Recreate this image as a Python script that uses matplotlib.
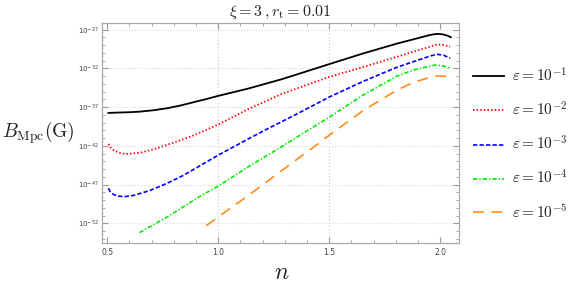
import matplotlib
matplotlib.use('Agg')
import matplotlib.pyplot as plt
import numpy as np
from matplotlib.ticker import FixedLocator, MultipleLocator, FuncFormatter

plt.rcParams['mathtext.fontset'] = 'cm'

# values (log10 of B_Mpc in gauss)
n_1 = [0.506, 0.55, 0.6, 0.649, 0.709, 0.769, 0.829, 0.889, 0.945, 1.0, 1.136, 1.286, 1.5,
       1.655, 1.805, 1.955, 1.975, 1.993, 2.01, 2.03, 2.048]
lg_1 = [-37.75, -37.7, -37.66, -37.58, -37.4, -37.15, -36.8, -36.37, -35.97, -35.55, -34.6, -33.4, -31.45,
        -30.05, -28.8, -27.68, -27.58, -27.55, -27.6, -27.75, -27.98]

n_2 = [0.506, 0.515, 0.528, 0.555, 0.581, 0.615, 0.649, 0.709, 0.769, 0.829, 0.889, 0.945, 1.0,
       1.136, 1.286, 1.5, 1.655, 1.805, 1.955, 1.985, 2.015, 2.045]
lg_2 = [-41.76, -42.2, -42.53, -42.9, -43.05, -43.0, -42.88, -42.45, -41.88, -41.3, -40.65, -39.95, -39.25,
        -37.25, -35.3, -33.1, -31.8, -30.5, -29.19, -28.92, -28.97, -29.2]

n_3 = [0.506, 0.515, 0.53, 0.551, 0.58, 0.619, 0.694, 0.769, 0.844, 0.919, 1.0, 1.136, 1.212, 1.35,
       1.5, 1.655, 1.805, 1.955, 1.985, 2.015, 2.045]
lg_3 = [-47.48, -47.95, -48.3, -48.5, -48.55, -48.4, -47.75, -46.85, -45.8, -44.55, -43.2, -41.1, -39.95, -37.95,
        -35.7, -33.65, -31.85, -30.4, -30.18, -30.3, -30.7]

n_4 = [0.646, 0.769, 0.919, 1.0, 1.136, 1.286, 1.392, 1.5, 1.655, 1.805, 1.88, 1.955, 1.98, 2.015, 2.045]
lg_4 = [-53.2, -51.2, -48.5, -47.2, -44.7, -42.1, -40.2, -38.3, -35.4, -33.0, -32.2, -31.69, -31.56, -31.7, -31.98]

n_5 = [0.946, 0.986, 1.016, 1.136, 1.286, 1.437, 1.52, 1.655, 1.805, 1.88, 1.955, 1.985, 2.015, 2.045]
lg_5 = [-52.3, -51.5, -50.85, -48.4, -45.2, -42.0, -40.2, -37.4, -34.8, -33.8, -33.15, -32.98, -33.0, -33.2]

labels = [r'$\varepsilon=10^{-1}$', r'$\varepsilon=10^{-2}$', r'$\varepsilon=10^{-3}$',
          r'$\varepsilon=10^{-4}$', r'$\varepsilon=10^{-5}$']
y_major_exp = [-52, -47, -42, -37, -32, -27]
x_grid = [1.0, 1.5]

fig = plt.figure(figsize=(5.78, 2.89), dpi=100)
ax = fig.add_axes([102 / 578, 1 - 243 / 289, (458.7 - 102) / 578, (243 - 23) / 289])

styles = [
    dict(color='black', lw=1.3, ls='-'),
    dict(color='#ff0000', lw=1.3, ls=(0, (0.8, 1.2))),
    dict(color='#0000ff', lw=1.2, ls=(0, (2.6, 1.3))),
    dict(color='#00ee00', lw=1.2, ls=(0, (2.6, 1.2, 0.8, 1.2))),
    dict(color='#ff8c1a', lw=1.2, ls=(0, (6.5, 4.5))),
]
series = [(n_1, lg_1), (n_2, lg_2), (n_3, lg_3), (n_4, lg_4), (n_5, lg_5)]
for (nn, lg), st, lab in zip(series, styles, labels):
    ax.plot(nn, 10.0 ** np.array(lg), label=lab, **st)

ax.set_yscale('log')
ax.set_xlim(0.477, 2.083)
ax.set_ylim(10 ** -54.54, 10 ** -26.14)

ax.yaxis.set_major_locator(FixedLocator([10.0 ** e for e in y_major_exp]))
ax.yaxis.set_minor_locator(FixedLocator([10.0 ** e for e in range(-54, -26)]))
ax.yaxis.set_major_formatter(FuncFormatter(
    lambda v, p: r'$\mathregular{10^{%d}}$' % round(np.log10(v))))
ax.yaxis.set_minor_formatter(FuncFormatter(lambda v, p: ''))
ax.xaxis.set_major_locator(MultipleLocator(0.5))
ax.xaxis.set_minor_locator(MultipleLocator(0.1))
ax.xaxis.set_major_formatter(FuncFormatter(lambda v, p: '%.1f' % v))

ax.grid(True, axis='y', which='major', color='#d6d6d6', ls=':', lw=0.8)
for xg in x_grid:
    ax.axvline(xg, color='#d0d0d0', ls=':', lw=0.9, zorder=0.5)
for s in ax.spines.values():
    s.set_color('#aaaaaa')
    s.set_linewidth(0.9)
ax.tick_params(which='both', direction='in', top=True, right=True,
               colors='#999999', labelcolor='#444444', labelsize=5.5)
ax.tick_params(which='major', length=4, width=0.8)
ax.tick_params(which='minor', length=2.2, width=0.6)
ax.tick_params(axis='y', labelsize=5, pad=2)

fig.text(280.5 / 578, 1 - 12 / 289, r'$\xi=3\,,r_{\rm t}=0.01$', ha='center', va='center',
         fontsize=11.5, color='#222222')
fig.text(38 / 578, 1 - 133 / 289, r'$B_{\rm Mpc}({\rm G})$', ha='center', va='center',
         fontsize=14, color='#222222')
fig.text(282 / 578, 1 - 272 / 289, r'$n$', ha='center', va='center', fontsize=17, color='#222222')

ax.legend(loc='center left', bbox_to_anchor=(473.3 / 578, 1 - 143.5 / 289),
          bbox_transform=fig.transFigure, frameon=False, borderpad=0, borderaxespad=0,
          fontsize=11, handlelength=2.0, handletextpad=0.55, labelspacing=1.05,
          labelcolor='#222222')

fig.savefig('out.png', dpi=100)
